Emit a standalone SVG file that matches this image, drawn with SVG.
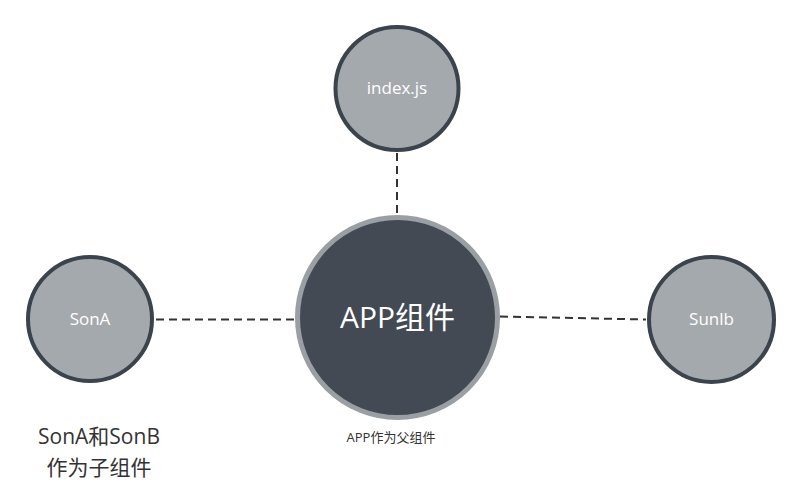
<svg xmlns="http://www.w3.org/2000/svg" width="801" height="500" viewBox="0 0 801 500">
  <style>
    .small circle { fill: #a4a9ae; stroke: #3b434c; stroke-width: 4; }
    .lbl { font-family: "Open Sans", "Noto Sans", "Noto Sans CJK SC", sans-serif; fill: #ffffff; text-anchor: middle; }
    .cap { font-family: "Open Sans", "Noto Sans", "Noto Sans CJK SC", sans-serif; fill: #333333; text-anchor: middle; }
    .conn line { stroke: #333333; stroke-width: 2; stroke-dasharray: 8 5; fill: none; }
  </style>
  <rect width="801" height="500" fill="#ffffff"/>
  <g id="connectors" class="conn">
    <line x1="397" y1="153" x2="397" y2="214"/>
    <line x1="156" y1="319.5" x2="294" y2="319.5"/>
    <line x1="500" y1="316.5" x2="646" y2="319.5"/>
  </g>
  <g id="node-index" class="small">
    <circle cx="397" cy="88.5" r="61.5"/>
    <text class="lbl" x="397" y="94" font-size="17">index.js</text>
  </g>
  <g id="node-app">
    <circle cx="397.5" cy="317.5" r="100" fill="#434a54" stroke="#9a9fa4" stroke-width="5"/>
    <text class="lbl" x="397.5" y="328" font-size="30">APP组件</text>
  </g>
  <g id="node-sona" class="small">
    <circle cx="90" cy="319" r="62"/>
    <text class="lbl" x="90" y="325" font-size="17">SonA</text>
  </g>
  <g id="node-sunlb" class="small">
    <circle cx="711.5" cy="319.5" r="62.5"/>
    <text class="lbl" x="711.5" y="325" font-size="17">Sunlb</text>
  </g>
  <g id="caption-app">
    <text class="cap" x="391" y="442" font-size="13">APP作为父组件</text>
  </g>
  <g id="caption-sons">
    <text class="cap" x="99" y="444" font-size="21">SonA和SonB</text>
    <text class="cap" x="99" y="475" font-size="21">作为子组件</text>
  </g>
</svg>
